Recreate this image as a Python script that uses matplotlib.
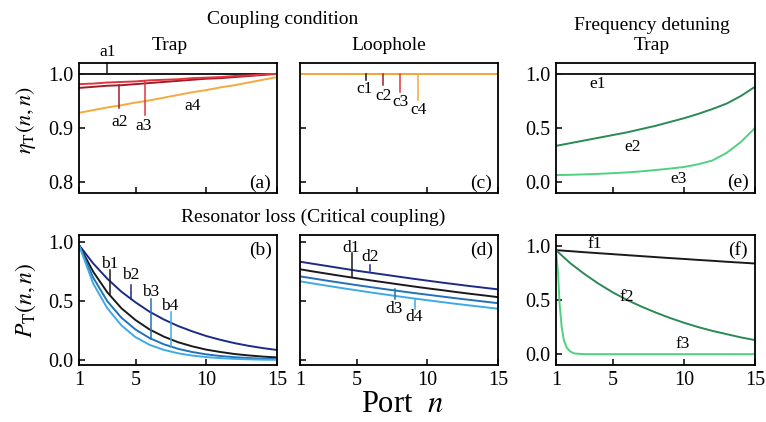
import matplotlib.pyplot as plt
import numpy as np

plt.rcParams['font.family'] = ['Liberation Serif', 'DejaVu Serif']
plt.rcParams['mathtext.fontset'] = 'stix'

ports = np.arange(1, 16)

# (a) coupling condition, trap
a1 = [1.0] * 15
a2 = [0.974, 0.976, 0.978, 0.979, 0.981, 0.983, 0.985, 0.987, 0.989, 0.991,
      0.992, 0.994, 0.996, 0.998, 1.0]
a3 = [0.981, 0.982, 0.984, 0.985, 0.986, 0.988, 0.989, 0.990, 0.992, 0.993,
      0.994, 0.996, 0.997, 0.999, 1.0]
a4 = [0.928, 0.933, 0.938, 0.942, 0.947, 0.951, 0.956, 0.961, 0.966, 0.970,
      0.975, 0.979, 0.984, 0.989, 0.994]

# (c) coupling condition, loophole
c_all = [1.0] * 15

# (b) resonator loss, trap
b1 = [0.975, 0.75, 0.575, 0.44, 0.34, 0.26, 0.20, 0.153, 0.118, 0.09,
      0.07, 0.053, 0.041, 0.031, 0.024]
b2 = [0.975, 0.82, 0.69, 0.58, 0.49, 0.41, 0.345, 0.29, 0.245, 0.205,
      0.173, 0.145, 0.122, 0.103, 0.087]
b3 = [0.975, 0.70, 0.50, 0.36, 0.26, 0.187, 0.135, 0.097, 0.07, 0.05,
      0.036, 0.026, 0.019, 0.013, 0.01]
b4 = [0.975, 0.65, 0.44, 0.295, 0.195, 0.13, 0.088, 0.059, 0.04, 0.027,
      0.018, 0.012, 0.008, 0.005, 0.004]

# (d) resonator loss, loophole
d1 = [0.770, 0.750, 0.731, 0.712, 0.694, 0.676, 0.659, 0.642, 0.625, 0.609,
      0.594, 0.578, 0.563, 0.549, 0.534]
d2 = [0.834, 0.815, 0.796, 0.777, 0.758, 0.741, 0.724, 0.707, 0.690, 0.674,
      0.658, 0.643, 0.628, 0.614, 0.600]
d3 = [0.710, 0.691, 0.672, 0.654, 0.636, 0.619, 0.602, 0.586, 0.570, 0.555,
      0.540, 0.525, 0.511, 0.497, 0.483]
d4 = [0.668, 0.648, 0.629, 0.610, 0.592, 0.574, 0.557, 0.540, 0.524, 0.508,
      0.493, 0.478, 0.464, 0.450, 0.436]

# (e) frequency detuning, coupling efficiency
e1 = [1.0] * 15
e2 = [0.335, 0.36, 0.385, 0.41, 0.435, 0.46, 0.49, 0.52, 0.555, 0.59,
      0.63, 0.675, 0.725, 0.795, 0.88]
e3 = [0.065, 0.068, 0.072, 0.077, 0.083, 0.09, 0.10, 0.112, 0.125, 0.14,
      0.165, 0.20, 0.27, 0.37, 0.50]

# (f) frequency detuning, transfer probability
f1 = [0.960, 0.951, 0.941, 0.932, 0.923, 0.914, 0.905, 0.896, 0.887, 0.879,
      0.870, 0.862, 0.853, 0.845, 0.837]
f2 = [0.96, 0.84, 0.74, 0.65, 0.57, 0.50, 0.44, 0.385, 0.335, 0.29,
      0.25, 0.215, 0.185, 0.155, 0.13]
f3_ports = [1, 1.15, 1.25, 1.4, 1.55, 1.75, 2, 2.3, 3, 4, 5, 6, 7, 8, 9,
            10, 11, 12, 13, 14, 15]
f3 = [0.96, 0.74, 0.47, 0.25, 0.13, 0.06, 0.025, 0.006, 0, 0, 0, 0, 0, 0, 0,
      0, 0, 0, 0, 0, 0]

BLACK = '#1a1a1a'
DRED, RED, ORANGE = '#a11d2e', '#e2353d', '#f5aa3c'
NAVY, BLUE, LBLUE = '#1c2b86', '#2172b8', '#3eaae6'
DGREEN, LGREEN = '#2a8a55', '#4fd17f'

# labelled tick marks: (text, x, y0, y1, text x, text y, colour)
a_marks = [('a1', 3.0, 1.0, 1.02, 3.0, 1.04, BLACK),
           ('a2', 3.85, 0.979, 0.937, 3.85, 0.911, DRED),
           ('a3', 5.7, 0.986, 0.924, 5.6, 0.903, RED),
           ('a4', None, 0, 0, 9.0, 0.941, ORANGE)]
c_marks = [('c1', 5.65, 1.0, 0.989, 5.55, 0.972, BLACK),
           ('c2', 6.85, 1.0, 0.980, 6.9, 0.959, DRED),
           ('c3', 8.07, 1.0, 0.967, 8.1, 0.948, RED),
           ('c4', 9.32, 1.0, 0.952, 9.35, 0.933, ORANGE)]
b_marks = [('b1', 3.17, 0.765, 0.562, 3.15, 0.815, BLACK),
           ('b2', 4.68, 0.636, 0.517, 4.65, 0.72, NAVY),
           ('b3', 6.08, 0.517, 0.18, 6.05, 0.576, BLUE),
           ('b4', 7.47, 0.407, 0.11, 7.4, 0.458, LBLUE)]
d_marks = [('d1', 4.65, 0.904, 0.706, 4.65, 0.95, BLACK),
           ('d2', 5.95, 0.81, 0.754, 5.95, 0.873, NAVY),
           ('d3', 7.74, 0.60, 0.515, 7.65, 0.432, BLUE),
           ('d4', 9.13, 0.522, 0.43, 9.05, 0.364, LBLUE)]
e_marks = [('e1', None, 0, 0, 3.9, 0.906, BLACK),
           ('e2', None, 0, 0, 6.4, 0.327, DGREEN),
           ('e3', None, 0, 0, 9.6, 0.03, LGREEN)]
f_marks = [('f1', None, 0, 0, 3.7, 1.02, BLACK),
           ('f2', None, 0, 0, 6.0, 0.53, DGREEN),
           ('f3', None, 0, 0, 9.9, 0.09, LGREEN)]

W, H = 766, 422
fig = plt.figure(figsize=(W / 100, H / 100), dpi=100)


def make_ax(left, top, width, ylim, yticks, ylabels, letter, letter_y):
    ax = fig.add_axes([left / W, 1 - (top + 130) / H, width / W, 130 / H])
    ax.set_xlim(1, 15)
    ax.set_ylim(*ylim)
    ax.set_xticks([1, 5, 10, 15])
    ax.set_yticks(yticks)
    if ylabels:
        ax.set_yticklabels(ylabels)
    else:
        ax.tick_params(labelleft=False)
    ax.tick_params(direction='in', length=4, width=1.1, labelsize=14.5, pad=4)
    for s in ax.spines.values():
        s.set_linewidth(1.3)
    ax.text(0.915, letter_y, letter, transform=ax.transAxes, fontsize=14,
            ha='center', va='center')
    return ax


def mark(ax, marks):
    for text, x, y0, y1, tx, ty, col in marks:
        if x is not None:
            ax.plot([x, x], [y0, y1], color=col, lw=1.1, clip_on=False)
        ax.text(tx, ty, text, fontsize=12.5, ha='center', va='center')


lw = 1.4
eta_ticks = [0.8, 0.9, 1.0]
eta_labels = ['0.8', '0.9', '1.0']
p_ticks = [0.0, 0.5, 1.0]
p_labels = ['0.0', '0.5', '1.0']

ax_a = make_ax(79, 63, 198, (0.78, 1.02), eta_ticks, eta_labels, '(a)', 0.077)
ax_a.plot(ports, a1, color=BLACK, lw=lw)
ax_a.plot(ports, a2, color=DRED, lw=lw)
ax_a.plot(ports, a3, color=RED, lw=lw)
ax_a.plot(ports, a4, color=ORANGE, lw=lw)
ax_a.tick_params(labelbottom=False)
mark(ax_a, a_marks)

ax_c = make_ax(300, 63, 198, (0.78, 1.02), eta_ticks, None, '(c)', 0.077)
for col in [BLACK, DRED, RED, ORANGE]:
    ax_c.plot(ports, c_all, color=col, lw=lw)
ax_c.tick_params(labelbottom=False)
mark(ax_c, c_marks)

ax_e = make_ax(556, 63, 199, (-0.1, 1.1), p_ticks, p_labels, '(e)', 0.085)
ax_e.plot(ports, e1, color=BLACK, lw=lw)
ax_e.plot(ports, e2, color=DGREEN, lw=lw)
ax_e.plot(ports, e3, color=LGREEN, lw=lw)
ax_e.tick_params(labelbottom=False)
mark(ax_e, e_marks)

ax_b = make_ax(79, 235, 198, (-0.04, 1.06), p_ticks, p_labels, '(b)', 0.885)
ax_b.plot(ports, b2, color=NAVY, lw=lw)
ax_b.plot(ports, b1, color=BLACK, lw=lw)
ax_b.plot(ports, b3, color=BLUE, lw=lw)
ax_b.plot(ports, b4, color=LBLUE, lw=lw)
mark(ax_b, b_marks)

ax_d = make_ax(300, 235, 198, (-0.04, 1.06), p_ticks, None, '(d)', 0.885)
ax_d.plot(ports, d2, color=NAVY, lw=lw)
ax_d.plot(ports, d1, color=BLACK, lw=lw)
ax_d.plot(ports, d3, color=BLUE, lw=lw)
ax_d.plot(ports, d4, color=LBLUE, lw=lw)
mark(ax_d, d_marks)

ax_f = make_ax(556, 235, 199, (-0.1, 1.1), p_ticks, p_labels, '(f)', 0.885)
ax_f.plot(ports, f1, color=BLACK, lw=lw)
ax_f.plot(ports, f2, color=DGREEN, lw=lw)
ax_f.plot(f3_ports, f3, color=LGREEN, lw=lw)
mark(ax_f, f_marks)


def ftext(x, y, s, size=14, **kw):
    fig.text(x / W, 1 - y / H, s, fontsize=size, ha='center', va='center', **kw)


ftext(283, 20, 'Coupling condition')
ftext(170, 46, 'Trap')
ftext(389, 46, 'Loophole')
ftext(652, 26, 'Frequency detuning')
ftext(652, 46, 'Trap')
ftext(313, 217, 'Resonator loss (Critical coupling)')
ftext(402, 404, r'Port  $n$', size=22)
ftext(26, 120, r'$\eta_{\mathrm{T}}(n,n)$', size=16, rotation=90)
ftext(26, 300, r'$P_{\mathrm{T}}(n,n)$', size=17, rotation=90)

fig.savefig('out.png', dpi=100)
